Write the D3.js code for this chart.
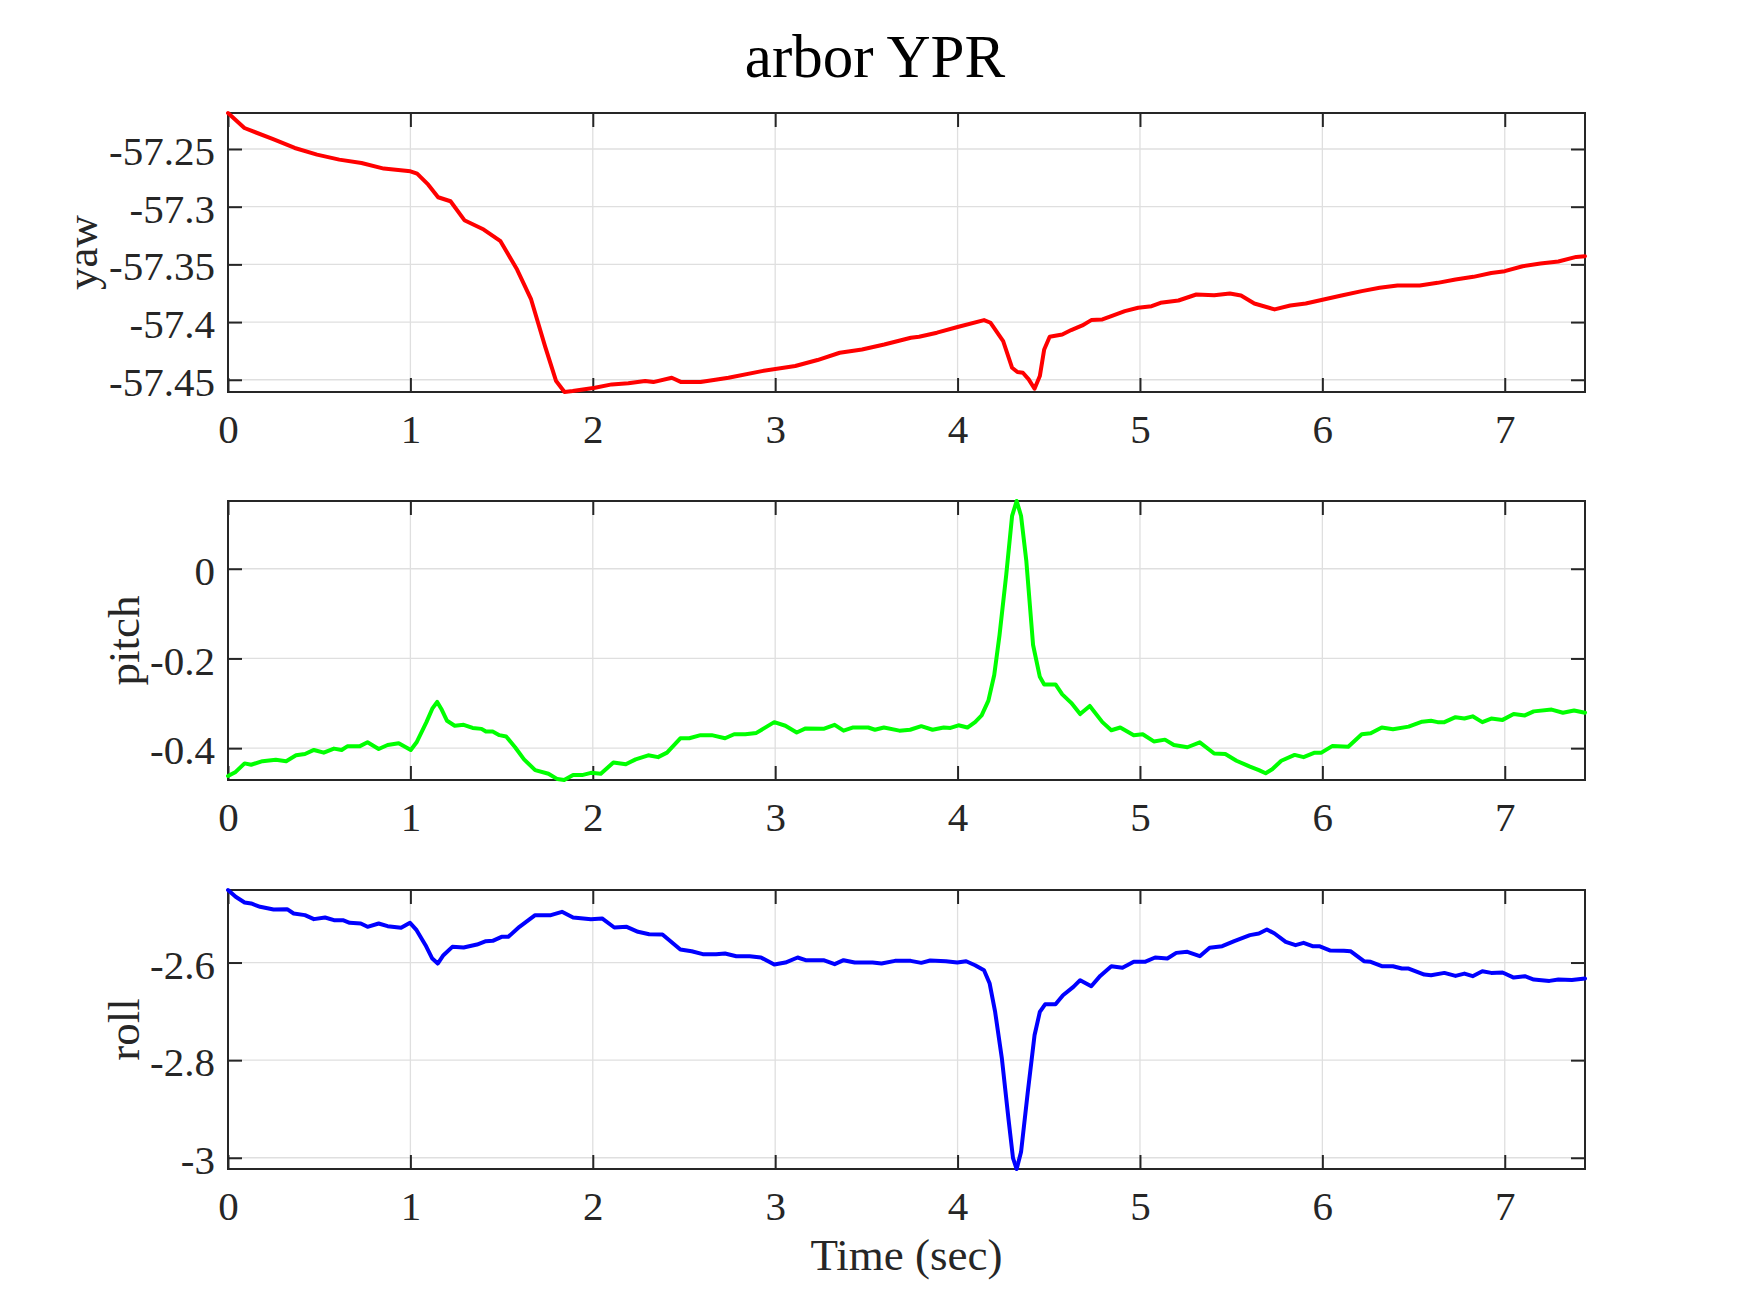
<!DOCTYPE html>
<html>
<head>
<meta charset="utf-8">
<script src="https://cdn.jsdelivr.net/npm/d3@7"></script>
<style>
  body { margin: 0; background: #fff; }
  svg { display: block; font-family: "Liberation Serif", "Times New Roman", serif; }
</style>
</head>
<body>
<svg width="1750" height="1313"></svg>
<script>
// [time (sec), value]
const yaw = [[0,-57.2188],[0.09,-57.2318],[0.244,-57.2413],[0.366,-57.2491],[0.488,-57.2549],[0.61,-57.2592],
  [0.732,-57.2621],[0.854,-57.267],[1.0,-57.2693],[1.037,-57.2714],[1.098,-57.2809],[1.152,-57.2918],[1.22,-57.2953],
  [1.296,-57.3117],[1.402,-57.3198],[1.494,-57.3299],[1.585,-57.3545],[1.662,-57.3804],[1.738,-57.4208],[1.799,-57.4511],
  [1.845,-57.4606],[1.89,-57.4598],[2.012,-57.4569],[2.104,-57.454],[2.195,-57.4531],[2.287,-57.4511],[2.332,-57.452],
  [2.433,-57.4482],[2.485,-57.452],[2.591,-57.452],[2.744,-57.4482],[2.927,-57.4425],[3.11,-57.4381],[3.232,-57.4329],
  [3.354,-57.4266],[3.476,-57.4237],[3.598,-57.4194],[3.744,-57.4136],[3.789,-57.4127],[3.887,-57.4092],[4.0,-57.4043],
  [4.145,-57.3983],[4.181,-57.4006],[4.25,-57.4165],[4.299,-57.4396],[4.328,-57.4433],[4.358,-57.4439],[4.39,-57.4497],
  [4.422,-57.4578],[4.451,-57.4468],[4.475,-57.4237],[4.505,-57.4127],[4.574,-57.4107],[4.623,-57.4069],[4.684,-57.4029],
  [4.733,-57.3983],[4.794,-57.3977],[4.843,-57.3948],[4.917,-57.3905],[4.99,-57.3876],[5.064,-57.3862],[5.113,-57.3833],
  [5.211,-57.3813],[5.309,-57.3761],[5.407,-57.3767],[5.493,-57.3752],[5.554,-57.377],[5.627,-57.3839],[5.738,-57.389],
  [5.824,-57.3856],[5.909,-57.3839],[6.007,-57.3804],[6.105,-57.377],[6.216,-57.3732],[6.314,-57.3703],[6.412,-57.3683],
  [6.534,-57.3683],[6.632,-57.366],[6.73,-57.3631],[6.828,-57.3608],[6.926,-57.3574],[7.0,-57.3559],[7.098,-57.3516],
  [7.196,-57.3493],[7.294,-57.3475],[7.392,-57.3435],[7.44,-57.3429]]

const pitch = [[0,-0.462],[0.042,-0.453],[0.091,-0.434],[0.127,-0.437],[0.189,-0.429],[0.262,-0.426],[0.319,-0.429],
  [0.373,-0.416],[0.422,-0.413],[0.471,-0.404],[0.525,-0.41],[0.581,-0.401],[0.623,-0.404],[0.654,-0.396],[0.721,-0.396],
  [0.765,-0.387],[0.826,-0.402],[0.875,-0.393],[0.936,-0.389],[1.002,-0.404],[1.034,-0.387],[1.088,-0.342],[1.12,-0.312],
  [1.147,-0.297],[1.169,-0.312],[1.201,-0.339],[1.243,-0.35],[1.292,-0.348],[1.341,-0.355],[1.39,-0.357],[1.414,-0.363],
  [1.451,-0.363],[1.488,-0.371],[1.525,-0.374],[1.574,-0.398],[1.623,-0.425],[1.684,-0.449],[1.757,-0.457],[1.806,-0.469],
  [1.843,-0.471],[1.892,-0.46],[1.941,-0.46],[1.99,-0.455],[2.044,-0.457],[2.113,-0.432],[2.181,-0.436],[2.235,-0.425],
  [2.304,-0.416],[2.358,-0.42],[2.407,-0.41],[2.48,-0.378],[2.529,-0.378],[2.591,-0.371],[2.652,-0.371],[2.725,-0.378],
  [2.775,-0.369],[2.836,-0.369],[2.897,-0.366],[2.995,-0.342],[3.056,-0.35],[3.118,-0.365],[3.167,-0.356],[3.265,-0.357],
  [3.326,-0.348],[3.375,-0.361],[3.424,-0.354],[3.51,-0.354],[3.547,-0.359],[3.596,-0.354],[3.681,-0.361],[3.74,-0.359],
  [3.801,-0.351],[3.863,-0.359],[3.924,-0.354],[3.961,-0.355],[4.005,-0.349],[4.054,-0.354],[4.096,-0.342],[4.132,-0.327],
  [4.169,-0.294],[4.201,-0.237],[4.23,-0.148],[4.267,-0.013],[4.299,0.118],[4.324,0.151],[4.348,0.118],[4.377,0.017],
  [4.414,-0.17],[4.451,-0.241],[4.475,-0.258],[4.537,-0.258],[4.574,-0.28],[4.623,-0.299],[4.672,-0.324],[4.725,-0.306],
  [4.794,-0.342],[4.843,-0.36],[4.892,-0.354],[4.966,-0.371],[5.015,-0.369],[5.076,-0.385],[5.137,-0.381],[5.186,-0.393],
  [5.26,-0.398],[5.328,-0.387],[5.407,-0.412],[5.468,-0.413],[5.529,-0.428],[5.603,-0.441],[5.652,-0.449],[5.689,-0.456],
  [5.725,-0.447],[5.775,-0.428],[5.848,-0.415],[5.897,-0.42],[5.958,-0.41],[5.995,-0.41],[6.056,-0.395],[6.142,-0.397],
  [6.216,-0.369],[6.265,-0.367],[6.326,-0.354],[6.387,-0.358],[6.473,-0.352],[6.547,-0.341],[6.596,-0.339],[6.632,-0.342],
  [6.669,-0.342],[6.73,-0.331],[6.779,-0.334],[6.824,-0.329],[6.877,-0.342],[6.926,-0.334],[6.988,-0.337],[7.049,-0.324],
  [7.11,-0.327],[7.159,-0.318],[7.257,-0.314],[7.319,-0.321],[7.38,-0.316],[7.44,-0.321]]

const roll = [[0,-2.4514],[0.042,-2.4653],[0.091,-2.4769],[0.127,-2.479],[0.176,-2.4858],[0.25,-2.4913],[0.324,-2.4906],
  [0.36,-2.4995],[0.422,-2.5029],[0.471,-2.5111],[0.532,-2.5077],[0.581,-2.5132],[0.63,-2.5132],[0.667,-2.5186],
  [0.728,-2.52],[0.765,-2.5268],[0.826,-2.52],[0.875,-2.5255],[0.949,-2.5289],[0.998,-2.5186],[1.034,-2.5337],
  [1.083,-2.5644],[1.12,-2.5918],[1.15,-2.602],[1.181,-2.585],[1.23,-2.5679],[1.292,-2.5692],[1.365,-2.5631],
  [1.414,-2.5562],[1.451,-2.5556],[1.5,-2.5473],[1.537,-2.5473],[1.598,-2.5268],[1.684,-2.5029],[1.77,-2.5029],
  [1.831,-2.4961],[1.892,-2.5077],[1.99,-2.5111],[2.051,-2.5097],[2.118,-2.5282],[2.186,-2.5268],[2.248,-2.5371],
  [2.309,-2.5419],[2.382,-2.5426],[2.48,-2.5733],[2.542,-2.5768],[2.603,-2.5829],[2.676,-2.5829],[2.725,-2.5815],
  [2.787,-2.587],[2.86,-2.587],[2.922,-2.5897],[2.995,-2.6041],[3.056,-2.6],[3.123,-2.5897],[3.167,-2.5952],
  [3.265,-2.5952],[3.326,-2.6034],[3.375,-2.5952],[3.436,-2.6],[3.534,-2.6],[3.583,-2.6021],[3.657,-2.5966],
  [3.743,-2.5966],[3.801,-2.6007],[3.85,-2.5959],[3.936,-2.5973],[3.998,-2.6],[4.047,-2.5973],[4.096,-2.6055],
  [4.145,-2.6157],[4.176,-2.6431],[4.206,-2.7012],[4.243,-2.7969],[4.279,-2.92],[4.304,-3.0007],[4.324,-3.023],
  [4.348,-2.9884],[4.385,-2.8653],[4.422,-2.7491],[4.451,-2.7012],[4.48,-2.6855],[4.537,-2.6855],[4.578,-2.667],
  [4.635,-2.6499],[4.672,-2.6362],[4.733,-2.6485],[4.782,-2.6274],[4.843,-2.6075],[4.904,-2.6109],[4.966,-2.5986],
  [5.027,-2.5986],[5.083,-2.5897],[5.15,-2.5918],[5.199,-2.5802],[5.26,-2.5781],[5.328,-2.587],[5.382,-2.5699],
  [5.451,-2.5665],[5.517,-2.5562],[5.603,-2.5439],[5.652,-2.5405],[5.696,-2.5323],[5.738,-2.5405],[5.799,-2.5576],
  [5.853,-2.5644],[5.897,-2.5597],[5.946,-2.5665],[5.983,-2.5665],[6.044,-2.5754],[6.118,-2.5761],[6.154,-2.5768],
  [6.228,-2.5973],[6.265,-2.5986],[6.326,-2.6075],[6.387,-2.6075],[6.436,-2.6123],[6.473,-2.6123],[6.559,-2.6246],
  [6.596,-2.626],[6.669,-2.6212],[6.73,-2.6274],[6.779,-2.6226],[6.824,-2.628],[6.877,-2.6178],[6.926,-2.6212],
  [6.988,-2.6205],[7.049,-2.6308],[7.11,-2.628],[7.159,-2.6349],[7.245,-2.6376],[7.294,-2.6349],[7.368,-2.6356],
  [7.44,-2.6328]]

const xTicks = [0, 1, 2, 3, 4, 5, 6, 7]
const yawTicks = [-57.45, -57.4, -57.35, -57.3, -57.25]
const pitchTicks = [-0.4, -0.2, 0]
const rollTicks = [-3, -2.8, -2.6]

const titleText = "arbor YPR"
const xLabel = "Time (sec)"

const left = 228, right = 1585, panelH = 279
const axisColor = "#262626"
const gridColor = "#dfdfdf"

const panels = [
  { label: "yaw",   data: yaw,   ticks: yawTicks,   color: "#ff0000", top: 113, labelX: 97 },
  { label: "pitch", data: pitch, ticks: pitchTicks, color: "#00ff00", top: 501, labelX: 139 },
  { label: "roll",  data: roll,  ticks: rollTicks,  color: "#0000ff", top: 890, labelX: 139 }
]

const svg = d3.select("svg")

svg.append("rect").attr("width", 1750).attr("height", 1313).attr("fill", "#fff")

const x = d3.scaleLinear()
  .domain([0, d3.max(yaw, d => d[0])])
  .range([left, right])

const line = d3.line()
  .x(d => x(d[0]))

panels.forEach(p => {
  const bottom = p.top + panelH
  const y = d3.scaleLinear()
    .domain(d3.extent(p.data, d => d[1]))
    .range([bottom, p.top])

  const g = svg.append("g")

  // grid
  g.append("g")
    .attr("stroke", gridColor)
    .attr("stroke-width", 1.3)
    .selectAll("line.gx")
    .data(xTicks)
    .join("line")
    .attr("x1", d => x(d)).attr("x2", d => x(d))
    .attr("y1", p.top).attr("y2", bottom)
  g.append("g")
    .attr("stroke", gridColor)
    .attr("stroke-width", 1.3)
    .selectAll("line.gy")
    .data(p.ticks)
    .join("line")
    .attr("x1", left).attr("x2", right)
    .attr("y1", d => y(d)).attr("y2", d => y(d))

  // axes, ticks pointing inwards on all four sides
  const fmt = d => String(d)
  const axes = [
    g.append("g").attr("transform", `translate(0,${bottom})`)
      .call(d3.axisBottom(x).tickValues(xTicks).tickSize(-14).tickPadding(22).tickFormat(fmt)),
    g.append("g").attr("transform", `translate(0,${p.top})`)
      .call(d3.axisTop(x).tickValues(xTicks).tickSize(-14).tickFormat("")),
    g.append("g").attr("transform", `translate(${left},0)`)
      .call(d3.axisLeft(y).tickValues(p.ticks).tickSize(-14).tickPadding(13).tickFormat(fmt)),
    g.append("g").attr("transform", `translate(${right},0)`)
      .call(d3.axisRight(y).tickValues(p.ticks).tickSize(-14).tickFormat(""))
  ]
  axes.forEach(a => {
    a.select(".domain").remove()
    a.selectAll(".tick line").attr("stroke", axisColor).attr("stroke-width", 2)
    a.selectAll(".tick text")
      .attr("fill", axisColor)
      .attr("font-size", 41)
      .attr("font-family", "Liberation Serif, Times New Roman, serif")
  })
  axes[2].selectAll(".tick text").attr("dy", "0.38em")

  g.append("rect")
    .attr("x", left).attr("y", p.top)
    .attr("width", right - left).attr("height", panelH)
    .attr("fill", "none")
    .attr("stroke", axisColor)
    .attr("stroke-width", 2)

  g.append("text")
    .attr("transform", `translate(${p.labelX},${p.top + panelH / 2}) rotate(-90)`)
    .attr("text-anchor", "middle")
    .attr("font-size", 45)
    .attr("fill", axisColor)
    .text(p.label)

  g.append("path")
    .datum(p.data)
    .attr("fill", "none")
    .attr("stroke", p.color)
    .attr("stroke-width", 4)
    .attr("stroke-linejoin", "round")
    .attr("stroke-linecap", "round")
    .attr("d", line.y(d => y(d[1])))
})

svg.append("text")
  .attr("x", 875)
  .attr("y", 77)
  .attr("text-anchor", "middle")
  .attr("font-size", 61)
  .attr("fill", "#000")
  .text(titleText)

svg.append("text")
  .attr("x", (left + right) / 2)
  .attr("y", 1270)
  .attr("text-anchor", "middle")
  .attr("font-size", 45)
  .attr("fill", axisColor)
  .text(xLabel)
</script>
</body>
</html>
